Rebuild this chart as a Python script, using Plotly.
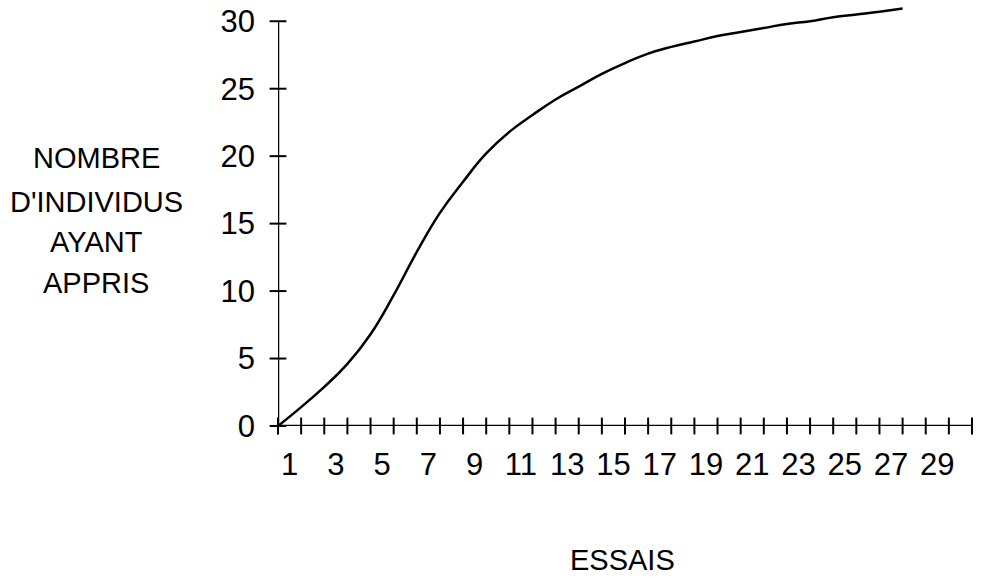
import plotly.graph_objects as go

# Data
trials = list(range(1, 29))
learned = [0, 1.4, 2.9, 4.6, 6.8, 9.7, 12.9, 15.8, 18.1, 20.2, 21.8, 23.05, 24.2,
           25.15, 26.1, 26.9, 27.6, 28.1, 28.5, 28.9, 29.2, 29.5, 29.8, 30.0, 30.3,
           30.5, 30.7, 30.95]

x_tick_positions = list(range(1, 32))          # tick marks (boundaries)
x_label_values = list(range(1, 30, 2))          # labelled trials
y_tick_values = [0, 5, 10, 15, 20, 25, 30]

FONT = "Liberation Sans, Arial, Helvetica, sans-serif"

fig = go.Figure()

# curve
fig.add_trace(go.Scatter(
    x=trials, y=learned, mode="lines",
    line=dict(color="black", width=2.5, shape="spline", smoothing=1.3),
    hoverinfo="skip", showlegend=False,
))

# crossing ticks on x axis
fig.add_trace(go.Scatter(
    x=x_tick_positions, y=[0] * len(x_tick_positions), mode="markers",
    marker=dict(symbol="line-ns", size=12, line=dict(color="black", width=2)),
    cliponaxis=False, hoverinfo="skip", showlegend=False,
))
# crossing ticks on y axis
fig.add_trace(go.Scatter(
    x=[x_tick_positions[0]] * len(y_tick_values), y=y_tick_values, mode="markers",
    marker=dict(symbol="line-ew", size=12, line=dict(color="black", width=2)),
    cliponaxis=False, hoverinfo="skip", showlegend=False,
))

# axis lines
fig.add_shape(type="line", xref="x", yref="y",
              x0=x_tick_positions[0], x1=x_tick_positions[-1], y0=0, y1=0,
              line=dict(color="black", width=2.5))
fig.add_shape(type="line", xref="x", yref="y",
              x0=x_tick_positions[0], x1=x_tick_positions[0], y0=0, y1=y_tick_values[-1],
              line=dict(color="black", width=2.5))

fig.update_xaxes(
    range=[1, 31], showgrid=False, zeroline=False, showline=False,
    automargin=False,
    tickmode="array", tickvals=[k + 0.5 for k in x_label_values],
    ticktext=[str(k) for k in x_label_values], ticks="",
    ticklabelstandoff=17,
    tickfont=dict(family=FONT, size=31, color="black"),
)
fig.update_yaxes(
    range=[0, 31.5], showgrid=False, zeroline=False, showline=False,
    automargin=False,
    tickmode="array", tickvals=y_tick_values,
    ticktext=[str(v) for v in y_tick_values], ticks="",
    ticklabelstandoff=22,
    tickfont=dict(family=FONT, size=31, color="black"),
)

title_lines = ["NOMBRE", "D'INDIVIDUS", "AYANT", "APPRIS"]
title_y = [0.6306, 0.5271, 0.4329, 0.3365]
for txt, yy in zip(title_lines, title_y):
    fig.add_annotation(text=txt, xref="paper", yref="paper", x=-0.2622, y=yy,
                       xanchor="center", yanchor="middle", showarrow=False,
                       font=dict(family=FONT, size=29, color="black"))

fig.add_annotation(text="ESSAIS", xref="paper", yref="paper", x=0.4957, y=-0.3153,
                   xanchor="center", yanchor="middle", showarrow=False,
                   font=dict(family=FONT, size=29, color="black"))

fig.update_layout(
    width=982, height=578,
    margin=dict(l=278, r=10, t=1, b=152),
    paper_bgcolor="white", plot_bgcolor="white",
    hovermode=False,
)

fig.write_html("out.html", config={"displayModeBar": False})

# remove the browser's default page margin so the figure sits at the window origin
with open("out.html", "r", encoding="utf-8") as f:
    html = f.read()
html = html.replace("<body>", '<body style="margin:0;padding:0;overflow:hidden">', 1)
with open("out.html", "w", encoding="utf-8") as f:
    f.write(html)
